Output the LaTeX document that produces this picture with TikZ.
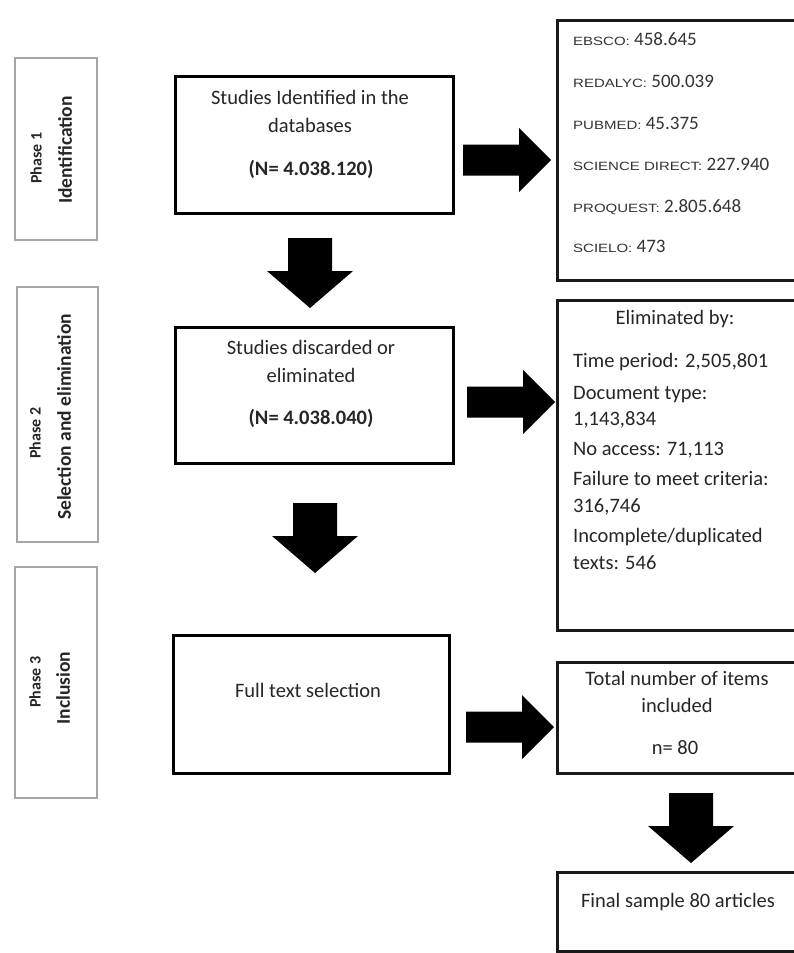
\documentclass[tikz,border=0pt]{standalone}
\usepackage{fontspec}
\setmainfont{Carlito}
\newfontfamily\dbname[FakeStretch=1.25]{Liberation Sans}
\newcommand\dbtag[1]{{\dbname\fontsize{12}{14}\selectfont #1}}
\begin{document}
\begin{tikzpicture}[x=1pt, y=-1pt,
  phasebox/.style={draw=gray!70, line width=2pt, fill=white, inner sep=0pt},
  mainbox/.style={draw=black, line width=3pt, inner sep=0pt},
  sidebox/.style={draw=black!90, line width=3pt, inner sep=0pt},
  txt/.style={inner sep=0pt, text=black!85, text height=0.7em, text depth=0.2em,
    font=\fontsize{20.5}{24}\selectfont},
  txtl/.style={txt, anchor=west},
  phasetop/.style={inner sep=0pt, rotate=90, text=black!85,
    font=\fontsize{16}{19}\selectfont\bfseries},
  phasesub/.style={inner sep=0pt, rotate=90, text=black!85,
    font=\fontsize{19.5}{24}\selectfont\bfseries},
  dbline/.style={inner sep=0pt, anchor=west, text=black!80, text height=0.7em, text depth=0.2em,
    font=\fontsize{19}{22}\selectfont},
  blockfill/.style={fill=black},
  rarrow/.pic={\fill[blockfill] (0,-15.5) -- (56,-15.5) -- (56,-32) -- (88,0)
      -- (56,32) -- (56,15.5) -- (0,15.5) -- cycle;},
  darrow/.pic={\fill[blockfill] (-22,0) -- (22,0) -- (22,33) -- (43,33) -- (0,70)
      -- (-43,33) -- (-22,33) -- cycle;}
]
\fill[white] (0,0) rectangle (793,953);
\useasboundingbox (0,0) rectangle (793,953);

% phase column
\node[phasebox, minimum width=82pt, minimum height=182pt] (ph1) at (56,149) {};
\node[phasebox, minimum width=81pt, minimum height=255pt] (ph2) at (57.5,414.5) {};
\node[phasebox, minimum width=82pt, minimum height=231pt] (ph3) at (56,682.5) {};
\node[phasetop] (ph1a) at (36,158) {Phase 1};
\node[phasesub] (ph1b) at (65,150) {Identification};
\node[phasetop] (ph2a) at (35,433) {Phase 2};
\node[phasesub] (ph2b) at (64,417) {Selection and elimination};
\node[phasetop] (ph3a) at (35,682) {Phase 3};
\node[phasesub] (ph3b) at (63,688) {Inclusion};

% main flow boxes
\node[mainbox, minimum width=278pt, minimum height=137pt] (ident) at (314,144.5) {};
\node[txt] (ident1) at (310,102) {Studies Identified in the};
\node[txt] (ident2) at (310,130) {databases};
\node[txt, font=\fontsize{20.5}{24}\selectfont\bfseries] (ident3) at (311,173) {(N= 4.038.120)};

\node[mainbox, minimum width=278pt, minimum height=136pt] (disc) at (314,395) {};
\node[txt] (disc1) at (311,352) {Studies discarded or};
\node[txt] (disc2) at (311,380) {eliminated};
\node[txt, font=\fontsize{20.5}{24}\selectfont\bfseries] (disc3) at (311,422) {(N= 4.038.040)};

\node[mainbox, minimum width=276pt, minimum height=138pt] (full) at (311,704) {};
\node[txt] (full1) at (308,695) {Full text selection};

% side boxes (run past the right edge)
\node[sidebox, minimum width=250pt, minimum height=260pt] (dbs) at (682,150) {};
\node[dbline] (db1) at (573,43) {\dbtag{EBSCO:} 458.645};
\node[dbline] (db2) at (573,85) {\dbtag{REDALYC:} 500.039};
\node[dbline] (db3) at (573,127) {\dbtag{PUBMED:} 45.375};
\node[dbline] (db4) at (573,168) {\dbtag{SCIENCE DIRECT:} 227.940};
\node[dbline] (db5) at (573,210) {\dbtag{PROQUEST:} 2.805.648};
\node[dbline] (db6) at (573,250) {\dbtag{SCIELO:} 473};

\node[sidebox, minimum width=250pt, minimum height=330pt] (elim) at (682,465) {};
\node[txt] (el0) at (675,322) {Eliminated by:};
\node[txtl] (el1) at (573,365) {Time period: 2,505,801};
\node[txtl] (el2) at (573,397) {Document type:};
\node[txtl] (el3) at (573,423) {1,143,834};
\node[txtl] (el4) at (573,453) {No access: 71,113};
\node[txtl] (el5) at (573,483) {Failure to meet criteria:};
\node[txtl] (el6) at (573,510) {316,746};
\node[txtl] (el7) at (573,540) {Incomplete/duplicated};
\node[txtl] (el8) at (573,567) {texts: 546};

\node[sidebox, minimum width=250pt, minimum height=111pt] (total) at (682,717.5) {};
\node[txt] (tot1) at (677,683) {Total number of items};
\node[txt] (tot2) at (677,710) {included};
\node[txt] (tot3) at (675,752) {n= 80};

\node[sidebox, minimum width=250pt, minimum height=79pt] (final) at (682,911.5) {};
\node[txt] (fin1) at (678,905) {Final sample 80 articles};

% block arrows between the boxes
\pic at (463,160) {rarrow};
\pic at (467,402) {rarrow};
\pic at (466,727) {rarrow};
\pic at (310,238) {darrow};
\pic at (315,503) {darrow};
\pic at (691,793) {darrow};
\end{tikzpicture}
\end{document}
